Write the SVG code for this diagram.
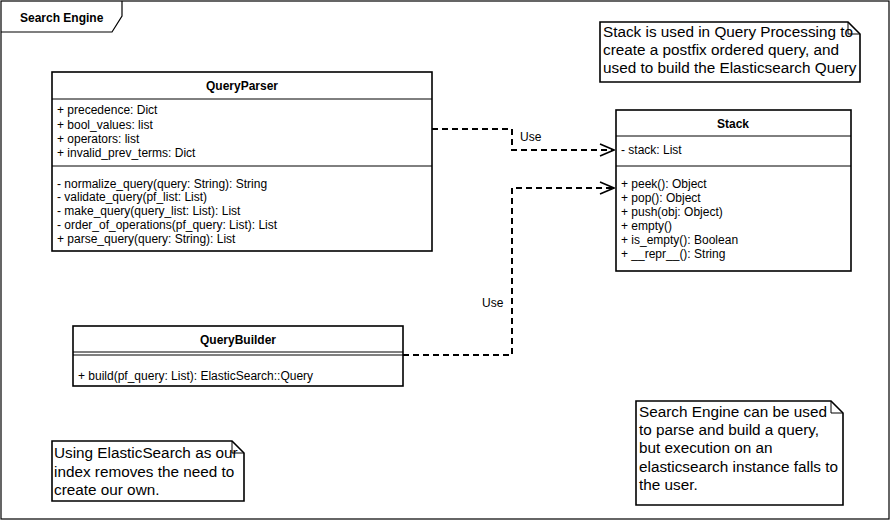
<svg xmlns="http://www.w3.org/2000/svg" width="892" height="522" viewBox="0 0 892 522">
<style>
text{font-family:"Liberation Sans",Arial,sans-serif;font-size:12px;fill:#000}
.b{font-weight:bold}
.n{font-size:15.3px}
.box{fill:#fff;stroke:#000;stroke-width:1.6}
.ln{stroke:#000;stroke-width:1;fill:none}
.dash{stroke:#000;stroke-width:2;fill:none;stroke-dasharray:6,4}
</style>
<defs>
<marker id="open" markerWidth="16" markerHeight="16" refX="15" refY="8" orient="auto" markerUnits="userSpaceOnUse">
<path d="M1,2 L15,8 L1,14" fill="none" stroke="#000" stroke-width="1.6"/>
</marker>
</defs>
<rect width="892" height="522" fill="#fff"/>
<g id="frame">
<rect x="1" y="1" width="888" height="518" fill="none" stroke="#000" stroke-width="1.2"/>
<path d="M1,32 L112,32 L122,16 L122,1" fill="none" stroke="#000" stroke-width="1.2"/>
<text class="b" x="20" y="22">Search Engine</text>
</g>
<g id="connectors">
<path class="dash" d="M432,129 H512 V150 H614" marker-end="url(#open)"/>
<text x="520" y="141">Use</text>
<path class="dash" d="M403,355 H512 V188 H614" marker-end="url(#open)"/>
<text x="482" y="307">Use</text>
</g>
<g id="QueryParser">
<rect class="box" x="52" y="72" width="380" height="179"/>
<line class="ln" x1="52" y1="99" x2="432" y2="99"/>
<line class="ln" x1="52" y1="166" x2="432" y2="166"/>
<text class="b" x="242" y="90" text-anchor="middle">QueryParser</text>
<text x="57" y="114">+ precedence: Dict</text>
<text x="57" y="129">+ bool_values: list</text>
<text x="57" y="143">+ operators: list</text>
<text x="57" y="157">+ invalid_prev_terms: Dict</text>
<text x="57" y="188">- normalize_query(query: String): String</text>
<text x="57" y="201">- validate_query(pf_list: List)</text>
<text x="57" y="215">- make_query(query_list: List): List</text>
<text x="57" y="229">- order_of_operations(pf_query: List): List</text>
<text x="57" y="243">+ parse_query(query: String): List</text>
</g>
<g id="Stack">
<rect class="box" x="616" y="110" width="235" height="161"/>
<line class="ln" x1="616" y1="136" x2="851" y2="136"/>
<line class="ln" x1="616" y1="166" x2="851" y2="166"/>
<text class="b" x="733" y="128" text-anchor="middle">Stack</text>
<text x="621" y="154">- stack: List</text>
<text x="621" y="188">+ peek(): Object</text>
<text x="621" y="202">+ pop(): Object</text>
<text x="621" y="216">+ push(obj: Object)</text>
<text x="621" y="230">+ empty()</text>
<text x="621" y="244">+ is_empty(): Boolean</text>
<text x="621" y="258">+ __repr__(): String</text>
</g>
<g id="QueryBuilder">
<rect class="box" x="73" y="326" width="330" height="60"/>
<line class="ln" x1="73" y1="352" x2="403" y2="352"/>
<line class="ln" x1="73" y1="355" x2="403" y2="355"/>
<text class="b" x="238" y="344" text-anchor="middle">QueryBuilder</text>
<text x="78" y="380">+ build(pf_query: List): ElasticSearch::Query</text>
</g>
<g id="note1">
<path class="box" d="M600,22 H848 L860,34 V82 H600 Z"/>
<path class="ln" d="M848,22 V34 H860"/>
<text class="n" x="603" y="37">Stack is used in Query Processing to</text>
<text class="n" x="603" y="55">create a postfix ordered query, and</text>
<text class="n" x="603" y="73">used to build the Elasticsearch Query</text>
</g>
<g id="note2">
<path class="box" d="M52,441 H232 L244,453 V501 H52 Z"/>
<path class="ln" d="M232,441 V453 H244"/>
<text class="n" x="54" y="458">Using ElasticSearch as our</text>
<text class="n" x="54" y="477">index removes the need to</text>
<text class="n" x="54" y="495">create our own.</text>
</g>
<g id="note3">
<path class="box" d="M636,401 H831 L843,413 V505 H636 Z"/>
<path class="ln" d="M831,401 V413 H843"/>
<text class="n" x="639" y="417">Search Engine can be used</text>
<text class="n" x="639" y="435">to parse and build a query,</text>
<text class="n" x="639" y="453">but execution on an</text>
<text class="n" x="639" y="472">elasticsearch instance falls to</text>
<text class="n" x="639" y="490">the user.</text>
</g>
</svg>
